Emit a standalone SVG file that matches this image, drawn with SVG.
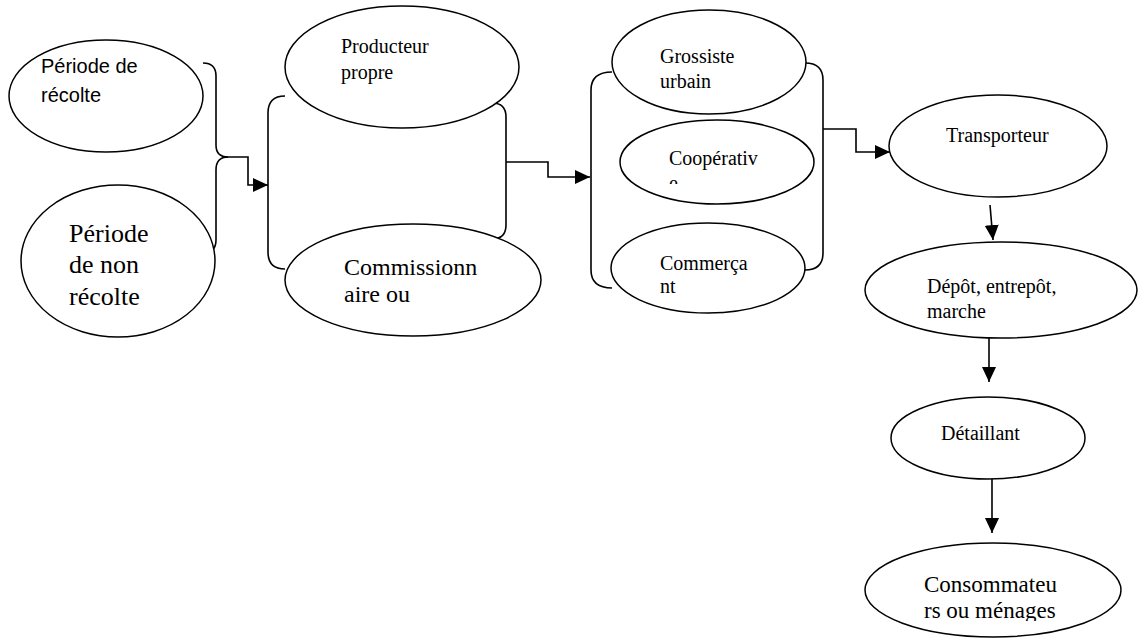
<svg xmlns="http://www.w3.org/2000/svg" width="1138" height="643" viewBox="0 0 1138 643">
<style>
.n{fill:#fff;stroke:#000;stroke-width:1.5}
.c{fill:none;stroke:#000;stroke-width:1.6}
.a{marker-end:url(#ah)}
.t{font-family:"Liberation Serif","Times New Roman",serif;fill:#000}
.s{font-family:"Liberation Sans",Arial,sans-serif;fill:#000}
</style>
<defs>
<marker id="ah" markerUnits="userSpaceOnUse" markerWidth="16" markerHeight="16" refX="15" refY="7" orient="auto">
<path d="M0,0 L15,7 L0,14 Z" fill="#000"/>
</marker>
<clipPath id="clipCoop"><rect x="600" y="120" width="230" height="64"/></clipPath>
<clipPath id="clipCons"><rect x="860" y="560" width="270" height="61"/></clipPath>
</defs>
<rect width="1138" height="643" fill="#fff"/>
<g id="connectors">
<path class="c" d="M203,63 Q216,63 216,76 L216,145 Q216,157 228,157"/>
<path class="c" d="M228,157 Q216,157 216,170 L216,240 Q216,253 203,253"/>
<path class="c a" d="M228,157 L248,157 L248,185 L268,185"/>
<path class="c" d="M285,96 Q268,96 268,113 L268,252 Q268,269 285,269"/>
<path class="c" d="M492,103 Q506,103 506,117 L506,225 Q506,239 492,239"/>
<path class="c a" d="M506,162 L548,162 L548,177 L590,177"/>
<path class="c" d="M612,72 Q591,72 591,90 L591,270 Q591,288 612,288"/>
<path class="c" d="M805,63 Q823,63 823,80 L823,253 Q823,270 805,270"/>
<path class="c a" d="M823,129 L856,129 L856,152 L890,152"/>
<path class="c a" d="M990,205 L993,240"/>
<path class="c a" d="M989,337 L989,382"/>
<path class="c a" d="M992,479 L992,533"/>
</g>
<g id="recolte">
<ellipse class="n" cx="106" cy="96" rx="97" ry="56"/>
<text class="s" font-size="20"><tspan x="41" y="73">Période de</tspan><tspan x="41" y="102">récolte</tspan></text>
</g>
<g id="nonrecolte">
<ellipse class="n" cx="118" cy="261" rx="97" ry="76"/>
<text class="t" font-size="26"><tspan x="69" y="242">Période</tspan><tspan x="69" y="273">de non</tspan><tspan x="69" y="305">récolte</tspan></text>
</g>
<g id="producteur">
<ellipse class="n" cx="402" cy="67" rx="117" ry="61"/>
<text class="t" font-size="20"><tspan x="341" y="53">Producteur</tspan><tspan x="341" y="79">propre</tspan></text>
</g>
<g id="commissionnaire">
<ellipse class="n" cx="413" cy="280" rx="128" ry="56"/>
<text class="t" font-size="24"><tspan x="344" y="275">Commissionn</tspan><tspan x="344" y="302">aire ou</tspan></text>
</g>
<g id="grossiste">
<ellipse class="n" cx="709" cy="62" rx="97" ry="52"/>
<text class="t" font-size="20"><tspan x="660" y="63">Grossiste</tspan><tspan x="660" y="88">urbain</tspan></text>
</g>
<g id="cooperative">
<ellipse class="n" cx="717" cy="162" rx="97" ry="42"/>
<text class="t" font-size="20" clip-path="url(#clipCoop)"><tspan x="669" y="165">Coopérativ</tspan><tspan x="669" y="190">e</tspan></text>
</g>
<g id="commercant">
<ellipse class="n" cx="708" cy="268" rx="97" ry="45"/>
<text class="t" font-size="20"><tspan x="660" y="270">Commerça</tspan><tspan x="660" y="293">nt</tspan></text>
</g>
<g id="transporteur">
<ellipse class="n" cx="998" cy="146" rx="109" ry="51"/>
<text class="t" font-size="20"><tspan x="946" y="142">Transporteur</tspan></text>
</g>
<g id="depot">
<ellipse class="n" cx="1001" cy="290" rx="136" ry="48"/>
<text class="t" font-size="20"><tspan x="927" y="293">Dépôt, entrepôt,</tspan><tspan x="927" y="318">marche</tspan></text>
</g>
<g id="detaillant">
<ellipse class="n" cx="988" cy="438" rx="97" ry="41"/>
<text class="t" font-size="20"><tspan x="941" y="440">Détaillant</tspan></text>
</g>
<g id="consommateurs">
<ellipse class="n" cx="993" cy="590" rx="128" ry="47"/>
<text class="t" font-size="23" clip-path="url(#clipCons)"><tspan x="924" y="592">Consommateu</tspan><tspan x="924" y="618">rs ou ménages</tspan></text>
</g>
</svg>
